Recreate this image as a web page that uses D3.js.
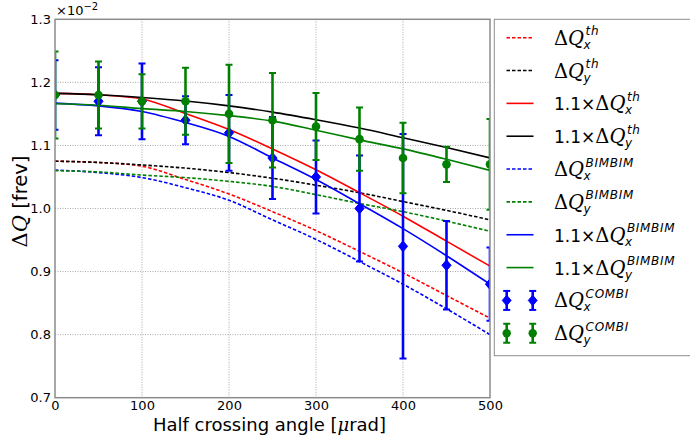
<!DOCTYPE html>
<html><head><meta charset="utf-8">
<script src="https://cdn.jsdelivr.net/npm/d3@7"></script>
<style>
html,body{margin:0;padding:0;background:#fff;}
svg{display:block;}
text{font-family:"DejaVu Sans",sans-serif;fill:#000;}
</style></head><body>
<svg id="chart" width="690" height="435"></svg>
<script>
// Half crossing angle [urad]
const angles = [0, 50, 100, 150, 200, 250, 300, 350, 400, 450, 500];

// Beam-beam tune shift (units of 1e-2), analytic and BIMBIM estimates
const dqThX  = [1.075, 1.073, 1.067, 1.046, 1.023, 0.995, 0.965, 0.932, 0.898, 0.862, 0.826];
const dqThY  = [1.075, 1.073, 1.069, 1.064, 1.057, 1.048, 1.037, 1.025, 1.011, 0.997, 0.982];
const dqBimX = [1.061, 1.057, 1.049, 1.033, 1.013, 0.982, 0.951, 0.916, 0.880, 0.841, 0.800];
const dqBimY = [1.060, 1.058, 1.053, 1.049, 1.043, 1.035, 1.022, 1.008, 0.995, 0.980, 0.964];
const scaleFactor = 1.1;

// COMBI simulation results with error bars
const combiX    = [1.18, 1.17, 1.17, 1.14, 1.12, 1.08, 1.05, 1.00, 0.94, 0.91, 0.88];
const combiXErr = [0.055, 0.054, 0.060, 0.038, 0.060, 0.065, 0.058, 0.084, 0.178, 0.070, 0.058];
const combiY    = [1.18, 1.18, 1.17, 1.17, 1.15, 1.14, 1.13, 1.11, 1.08, 1.07, 1.07];
const combiYErr = [0.069, 0.053, 0.043, 0.053, 0.078, 0.075, 0.053, 0.050, 0.056, 0.028, 0.072];

const xTicks = [0, 100, 200, 300, 400, 500];
const yTicks = [0.7, 0.8, 0.9, 1.0, 1.1, 1.2, 1.3];

const svg = d3.select("#chart");
const L = 55, R = 490, T = 19.3, B = 397.7;
const x = d3.scaleLinear().domain([0, 500]).range([L, R]);
const y = d3.scaleLinear().domain([0.7, 1.3]).range([B, T]);

const MATH = "'DejaVu Serif', serif";
const BLUE = "#0000ff", GREEN = "#008000", RED = "#ff0000", BLACK = "#000000";
const DASH = "3.5,2";

svg.append("clipPath").attr("id", "plotclip")
  .append("rect").attr("x", L).attr("y", T).attr("width", R - L).attr("height", B - T);

// grid
const grid = svg.append("g");
grid.selectAll("line.gx").data(xTicks.slice(1, -1)).join("line")
  .attr("x1", d => x(d)).attr("x2", d => x(d)).attr("y1", T).attr("y2", B)
  .attr("stroke", "#a8a8a8").attr("stroke-width", 1).attr("stroke-dasharray", "1,1.5");
grid.selectAll("line.gy").data(yTicks.slice(1, -1)).join("line")
  .attr("y1", d => y(d)).attr("y2", d => y(d)).attr("x1", L).attr("x2", R)
  .attr("stroke", "#a8a8a8").attr("stroke-width", 1).attr("stroke-dasharray", "1,1.5");

// curves
const scaled = arr => arr.map(v => v * scaleFactor);
const curves = [
  { vals: dqThX, color: RED, dash: DASH },
  { vals: dqThY, color: BLACK, dash: DASH },
  { vals: scaled(dqThX), color: RED, dash: null },
  { vals: scaled(dqThY), color: BLACK, dash: null },
  { vals: dqBimX, color: BLUE, dash: DASH },
  { vals: dqBimY, color: GREEN, dash: DASH },
  { vals: scaled(dqBimX), color: BLUE, dash: null },
  { vals: scaled(dqBimY), color: GREEN, dash: null },
];
const lineGen = d3.line().x((d, i) => x(angles[i])).y(d => y(d)).curve(d3.curveMonotoneX);
const plot = svg.append("g").attr("clip-path", "url(#plotclip)");
curves.forEach(c => {
  plot.append("path").attr("d", lineGen(c.vals)).attr("fill", "none")
    .attr("stroke", c.color).attr("stroke-width", 1.6)
    .attr("stroke-dasharray", c.dash);
});

// markers
function diamond(g, cx, cy, r, color) {
  g.append("path").attr("d", `M${cx},${cy - r}L${cx + r * 0.85},${cy}L${cx},${cy + r}L${cx - r * 0.85},${cy}Z`)
    .attr("fill", color).attr("stroke", color).attr("stroke-width", 1);
}
function dot(g, cx, cy, r, color) {
  g.append("circle").attr("cx", cx).attr("cy", cy).attr("r", r).attr("fill", color);
}
function errBar(g, cx, cy0, cy1, color) {
  g.append("line").attr("x1", cx).attr("x2", cx).attr("y1", cy0).attr("y2", cy1)
    .attr("stroke", color).attr("stroke-width", 2.6);
  [cy0, cy1].forEach(cy => g.append("line").attr("x1", cx - 3.5).attr("x2", cx + 3.5)
    .attr("y1", cy).attr("y2", cy).attr("stroke", color).attr("stroke-width", 2));
}
const errSeries = [
  { vals: combiX, errs: combiXErr, color: BLUE, marker: diamond, r: 5.4 },
  { vals: combiY, errs: combiYErr, color: GREEN, marker: dot, r: 4.3 },
];
errSeries.forEach(s => {
  const g = plot.append("g");
  s.vals.forEach((v, i) => {
    errBar(g, x(angles[i]), y(v + s.errs[i]), y(v - s.errs[i]), s.color);
    s.marker(g, x(angles[i]), y(v), s.r, s.color);
  });
});

// frame
svg.append("rect").attr("x", L).attr("y", T).attr("width", R - L).attr("height", B - T)
  .attr("fill", "none").attr("stroke", "#8c8c8c").attr("stroke-width", 1.5);

// axes
const yAxis = svg.append("g").attr("transform", `translate(${L},0)`)
  .call(d3.axisLeft(y).tickValues(yTicks).tickFormat(d3.format(".1f")).tickSize(0).tickPadding(4));
const xAxis = svg.append("g").attr("transform", `translate(0,${B})`)
  .call(d3.axisBottom(x).tickValues(xTicks).tickFormat(d3.format("d")).tickSize(0).tickPadding(3.5));
[xAxis, yAxis].forEach(a => {
  a.select(".domain").remove();
  a.selectAll("text").attr("font-family", "'DejaVu Sans', sans-serif").attr("font-size", 13).attr("fill", "#000");
});

// offset text
const off = svg.append("text").attr("x", 56).attr("y", 15).attr("font-size", 13);
off.append("tspan").text("×10");
off.append("tspan").attr("dy", -5).attr("font-size", 10).text("−2");

// axis labels
const xl = svg.append("text").attr("x", (L + R) / 2 - 3).attr("y", 430.5)
  .attr("text-anchor", "middle").attr("font-size", 18);
xl.append("tspan").text("Half crossing angle [");
xl.append("tspan").attr("font-family", MATH).attr("font-style", "italic").text("μ");
xl.append("tspan").text("rad]");

const yl = svg.append("text").attr("transform", `translate(27,${(T + B) / 2 - 7}) rotate(-90)`)
  .attr("text-anchor", "middle").attr("font-size", 19.5);
yl.append("tspan").attr("font-family", MATH).attr("font-size", 21).text("Δ");
yl.append("tspan").attr("font-family", MATH).attr("font-size", 21).attr("font-style", "italic").text("Q");
yl.append("tspan").text(" [frev]");

// legend
const legendItems = [
  { kind: "line", color: RED, dash: DASH, prefix: "", sup: "th", sub: "x" },
  { kind: "line", color: BLACK, dash: DASH, prefix: "", sup: "th", sub: "y" },
  { kind: "line", color: RED, dash: null, prefix: "1.1×", sup: "th", sub: "x" },
  { kind: "line", color: BLACK, dash: null, prefix: "1.1×", sup: "th", sub: "y" },
  { kind: "line", color: BLUE, dash: DASH, prefix: "", sup: "BIMBIM", sub: "x" },
  { kind: "line", color: GREEN, dash: DASH, prefix: "", sup: "BIMBIM", sub: "y" },
  { kind: "line", color: BLUE, dash: null, prefix: "1.1×", sup: "BIMBIM", sub: "x" },
  { kind: "line", color: GREEN, dash: null, prefix: "1.1×", sup: "BIMBIM", sub: "y" },
  { kind: "err", color: BLUE, marker: diamond, r: 5.2, sup: "COMBI", sub: "x", prefix: "" },
  { kind: "err", color: GREEN, marker: dot, r: 4.2, sup: "COMBI", sub: "y", prefix: "" },
];
const leg = svg.append("g");
leg.append("rect").attr("x", 494.3).attr("y", 19.3).attr("width", 220).attr("height", 336.4)
  .attr("fill", "#fff").attr("stroke", "#8c8c8c").attr("stroke-width", 1);
legendItems.forEach((it, i) => {
  const ly = 37.7 + i * 32.84;
  if (it.kind === "line") {
    leg.append("line").attr("x1", 506.5).attr("x2", 533.5).attr("y1", ly).attr("y2", ly)
      .attr("stroke", it.color).attr("stroke-width", 1.6).attr("stroke-dasharray", it.dash);
  } else {
    [506.7, 532.7].forEach(cx => {
      errBar(leg, cx, ly - 9.5, ly + 9.5, it.color);
      it.marker(leg, cx, ly, it.r, it.color);
    });
  }
  const t = leg.append("text").attr("x", 554).attr("y", ly + 7).attr("font-size", 17);
  if (it.prefix) t.append("tspan").attr("font-size", 17).text(it.prefix);
  t.append("tspan").attr("font-family", MATH).attr("font-size", 19.5).text("Δ");
  t.append("tspan").attr("font-family", MATH).attr("font-size", 19.5).attr("font-style", "italic").text("Q");
  const w = t.node().getComputedTextLength();
  leg.append("text").attr("x", 554 + w + 1.5).attr("y", ly - 2.5)
    .attr("font-family", MATH).attr("font-style", "italic").attr("font-size", 12)
    .attr("letter-spacing", 0.7).text(it.sup);
  leg.append("text").attr("x", 554 + w - 0.5).attr("y", ly + 11)
    .attr("font-family", MATH).attr("font-style", "italic").attr("font-size", 12).text(it.sub);
});
</script>
</body></html>
